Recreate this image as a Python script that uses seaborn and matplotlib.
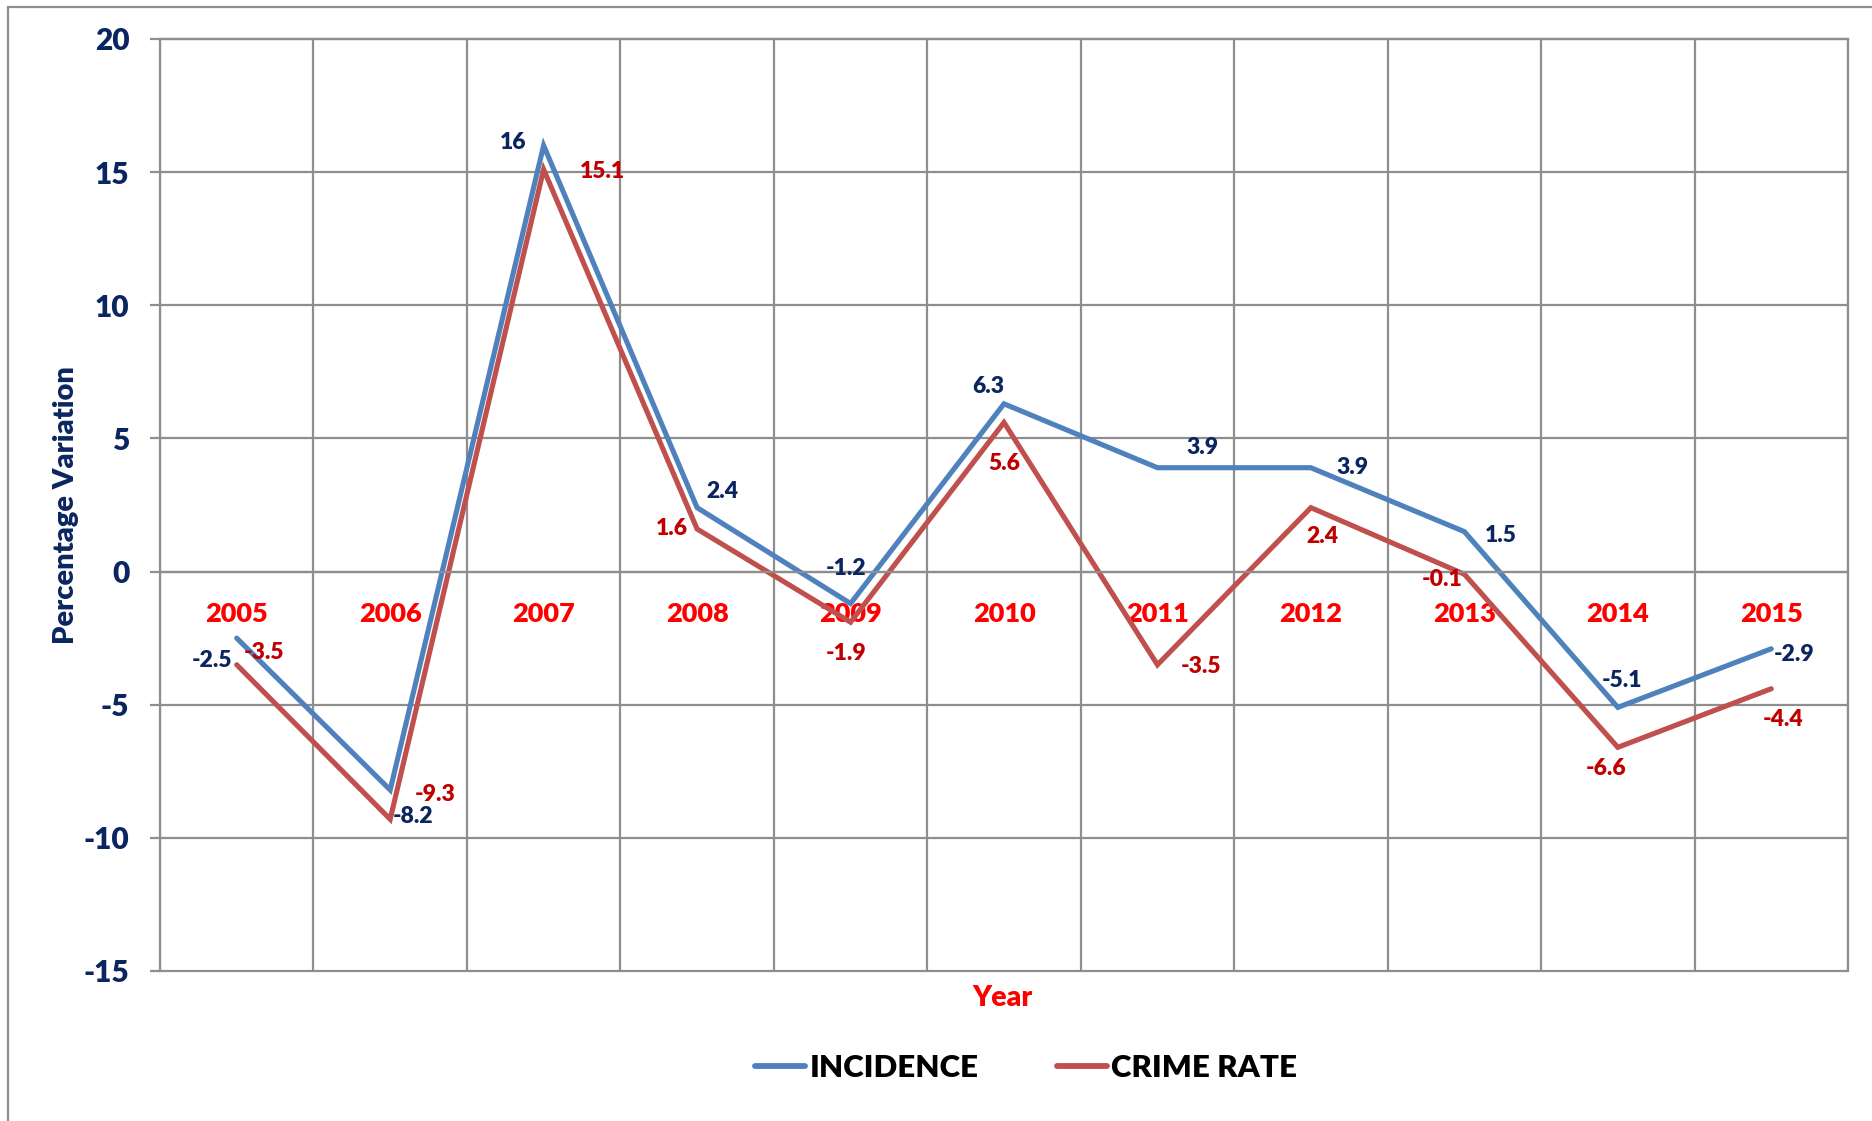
import numpy as np
import pandas as pd
import matplotlib
matplotlib.use("Agg")
import matplotlib.pyplot as plt
from matplotlib.patches import Rectangle
import seaborn as sns

# ---- data ----
years = ["2005", "2006", "2007", "2008", "2009", "2010",
         "2011", "2012", "2013", "2014", "2015"]
incidence = [-2.5, -8.2, 16, 2.4, -1.2, 6.3, 3.9, 3.9, 1.5, -5.1, -2.9]
crime_rate = [-3.5, -9.3, 15.1, 1.6, -1.9, 5.6, -3.5, 2.4, -0.1, -6.6, -4.4]
series_names = ["INCIDENCE", "CRIME RATE"]

# ---- label placement (pixel offsets from each point: right, down) ----
inc_offsets = [(-25, 22), (23, 27), (-31, -3), (25, -16), (-4, -35), (-16, -17),
               (45, -20), (42, 0), (36, 4), (4, -27), (23, 6)]
crime_offsets = [(27, -12), (45, -25), (59, 2), (-25, 0), (-4, 31), (0, 41),
                 (44, 2), (11, 29), (-22, 5), (-12, 21), (12, 31)]

# ---- styling ----
blue = "#4F81BD"
red = "#C0504D"
navy = "#0B2560"
dark_red = "#C00000"
bright_red = "#FF0000"
grid_gray = "#8E8E8E"
WEIGHT = "heavy"

sns.set_theme(style="white")
plt.rcParams["font.family"] = ["Lato", "DejaVu Sans"]
plt.rcParams["font.weight"] = WEIGHT
plt.rcParams["axes.unicode_minus"] = False

DPI = 100
W, H = 1872, 1121
PX = 72.0 / DPI  # points per pixel

fig = plt.figure(figsize=(W / DPI, H / DPI), dpi=DPI)
ax = fig.add_axes([160 / W, 1 - 971 / H, (1848 - 160) / W, (971 - 39) / H])

pos = np.arange(len(years))
df = pd.DataFrame({
    "pos": np.concatenate([pos, pos]),
    "value": incidence + crime_rate,
    "series": [series_names[0]] * len(years) + [series_names[1]] * len(years),
})

sns.lineplot(data=df, x="pos", y="value", hue="series", hue_order=series_names,
             palette={series_names[0]: blue, series_names[1]: red},
             linewidth=3.7, ax=ax, legend=True)
for ln in ax.lines:
    ln.set_solid_capstyle("round")
    ln.set_solid_joinstyle("miter")

# ---- axes & grid ----
ax.set_xlim(-0.5, len(years) - 0.5)
ax.set_ylim(-15, 20)
ax.set_yticks(np.arange(-15, 21, 5))
ax.set_xticks(pos)
ax.set_xticklabels(years)
ax.set_xticks(np.arange(-0.5, len(years)), minor=True)

ax.grid(True, which="major", axis="y", color=grid_gray, linewidth=1.6)
ax.grid(True, which="minor", axis="x", color=grid_gray, linewidth=1.6)
ax.grid(False, which="major", axis="x")
for tk in ax.yaxis.get_major_ticks() + ax.xaxis.get_minor_ticks():
    tk.gridline.set_clip_on(False)

for side in ["left", "right", "top", "bottom"]:
    ax.spines[side].set_color(grid_gray)
    ax.spines[side].set_linewidth(1.6)
ax.spines["bottom"].set_position(("data", 0))

ax.tick_params(axis="y", which="major", length=7, width=1.6, color=grid_gray,
               direction="out", pad=15, labelsize=21.5, labelcolor=navy, left=True)
ax.tick_params(axis="x", which="major", length=0, pad=22, labelsize=19.5,
               labelcolor=bright_red)
ax.tick_params(axis="x", which="minor", length=0)
for t in ax.get_yticklabels() + ax.get_xticklabels():
    t.set_fontweight(WEIGHT)

ax.set_ylabel("Percentage Variation", fontsize=21, fontweight=WEIGHT, color=navy)
ax.yaxis.set_label_coords((66 - 160) / (1848 - 160), 0.5)
ax.yaxis.label.set_verticalalignment("center")
ax.set_xlabel("")

fig.text(1003 / W, 1 - 998 / H, "Year", ha="center", va="center",
         fontsize=20.5, fontweight=WEIGHT, color=bright_red)

# ---- data labels ----
def fmt(v):
    return f"{v:g}"

for i, v in enumerate(incidence):
    dx, dy = inc_offsets[i]
    ax.annotate(fmt(v), xy=(pos[i], v), xytext=(dx * PX, -dy * PX),
                textcoords="offset points", ha="center", va="center",
                fontsize=16.5, fontweight=WEIGHT, color=navy, zorder=5)
for i, v in enumerate(crime_rate):
    dx, dy = crime_offsets[i]
    ax.annotate(fmt(v), xy=(pos[i], v), xytext=(dx * PX, -dy * PX),
                textcoords="offset points", ha="center", va="center",
                fontsize=16.5, fontweight=WEIGHT, color=dark_red, zorder=5)

# ---- legend ----
handles, labels = ax.get_legend_handles_labels()
leg = ax.legend(handles, labels, loc="center",
                bbox_to_anchor=(1026 / W, 1 - 1068 / H),
                bbox_transform=fig.transFigure, ncol=2, frameon=False,
                fontsize=22.5, handlelength=1.6, handletextpad=0.15,
                columnspacing=2.5)
for t in leg.get_texts():
    t.set_fontweight(WEIGHT)
    t.set_color("black")
for h in leg.get_lines():
    h.set_linewidth(4.2)
    h.set_solid_capstyle("round")

# ---- chart-area frame ----
frame = Rectangle((8 / W, -0.05), 1.2, (1 - 7 / H) + 0.05,
                  transform=fig.transFigure, fill=False,
                  edgecolor=grid_gray, linewidth=1.6, clip_on=False)
fig.patches.append(frame)

fig.savefig("out.png", dpi=DPI)
